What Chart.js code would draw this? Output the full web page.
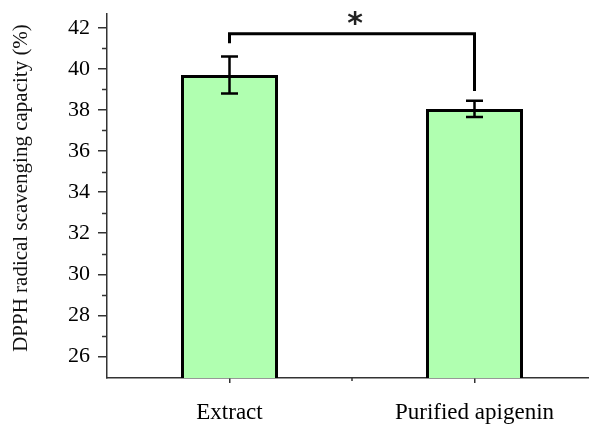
<!DOCTYPE html>
<html><head><meta charset="utf-8">
<script src="https://cdn.jsdelivr.net/npm/chart.js@4"></script>
<style>
html,body{margin:0;padding:0;overflow:hidden;background:#fff;width:589px;height:424px}
#wrap{width:610px;height:424px}
</style></head>
<body><div id="wrap"><canvas id="c" width="610" height="424"></canvas></div>
<script>
const categories = ['Extract', 'Purified apigenin'];
const means = [39.7, 38.05];
const errors = [0.9, 0.4];
const yTickValues = [26, 27, 28, 29, 30, 31, 32, 33, 34, 35, 36, 37, 38, 39, 40, 41, 42];
const yLabelValues = [26, 28, 30, 32, 34, 36, 38, 40, 42];
const yTitle = 'DPPH radical scavenging capacity (%)';
const bracketTop = 41.71;
const bracketLeftEnd = 41.24;
const bracketRightEnd = 38.92;
const sigLabel = '*';
const sigLabelValue = 42.3;

const AX = '#333';
const serif = '"Liberation Serif", "Times New Roman", serif';

const overlay = {
  id: 'overlay',
  afterDraw(chart) {
    const ctx = chart.ctx, xs = chart.scales.x, ys = chart.scales.y;
    ctx.save();
    // y axis title
    ctx.save();
    ctx.translate(21, 188);
    ctx.rotate(-Math.PI / 2);
    ctx.font = '21px ' + serif;
    ctx.fillStyle = '#111';
    ctx.textAlign = 'center'; ctx.textBaseline = 'middle';
    ctx.fillText(yTitle, 0, 0);
    ctx.restore();
    // minor y ticks
    ctx.strokeStyle = AX; ctx.lineWidth = 1.5;
    yTickValues.forEach(v => {
      if (yLabelValues.includes(v)) return;
      const py = Math.round(ys.getPixelForValue(v)) + 0.5;
      ctx.beginPath(); ctx.moveTo(ys.right - 5, py); ctx.lineTo(ys.right, py); ctx.stroke();
    });
    // minor x tick between categories
    const mx = xs.getPixelForValue(0.5);
    ctx.beginPath(); ctx.moveTo(mx, xs.top); ctx.lineTo(mx, xs.top + 3); ctx.stroke();
    // error bars
    ctx.strokeStyle = '#000'; ctx.lineWidth = 2.5;
    means.forEach((m, i) => {
      const px = xs.getPixelForValue(i);
      const t = ys.getPixelForValue(m + errors[i]);
      const b = ys.getPixelForValue(m - errors[i]);
      ctx.beginPath();
      ctx.moveTo(px, t); ctx.lineTo(px, b);
      ctx.moveTo(px - 8.5, t); ctx.lineTo(px + 8.5, t);
      ctx.moveTo(px - 8.5, b); ctx.lineTo(px + 8.5, b);
      ctx.stroke();
    });
    // significance bracket
    ctx.lineWidth = 3; ctx.lineJoin = 'miter';
    const x0 = xs.getPixelForValue(0), x1 = xs.getPixelForValue(1);
    ctx.beginPath();
    ctx.moveTo(x0, ys.getPixelForValue(bracketLeftEnd));
    ctx.lineTo(x0, ys.getPixelForValue(bracketTop));
    ctx.lineTo(x1, ys.getPixelForValue(bracketTop));
    ctx.lineTo(x1, ys.getPixelForValue(bracketRightEnd));
    ctx.stroke();
    ctx.fillStyle = '#222';
    ctx.font = 'bold 30px "DejaVu Sans", sans-serif';
    ctx.textAlign = 'center'; ctx.textBaseline = 'middle';
    ctx.fillText(sigLabel, (x0 + x1) / 2 + 3, ys.getPixelForValue(sigLabelValue) + 4);
    ctx.restore();
  }
};

new Chart(document.getElementById('c'), {
  type: 'bar',
  data: {
    labels: categories,
    datasets: [{
      data: means,
      backgroundColor: '#b0ffb0',
      borderColor: '#000',
      borderWidth: 3,
      categoryPercentage: 1,
      barPercentage: 0.396
    }]
  },
  options: {
    responsive: false,
    animation: false,
    devicePixelRatio: 1,
    layout: { padding: { top: 14, right: 13, left: 0, bottom: 0 } },
    plugins: { legend: { display: false }, tooltip: { enabled: false } },
    scales: {
      x: {
        type: 'category',
        offset: true,
        grid: { offset: false, drawOnChartArea: false, tickLength: 5, color: AX, lineWidth: 1.5 },
        border: { color: AX, width: 1.5 },
        ticks: { font: { family: serif, size: 23 }, color: '#000', padding: 16, maxRotation: 0, autoSkip: false },
        afterFit(s) { s.height = 46; s.paddingLeft = 0; s.paddingRight = 0; }
      },
      y: {
        min: 24.95,
        max: 42.67,
        afterBuildTicks(s) { s.ticks = yTickValues.map(v => ({ value: v })); },
        grid: {
          drawOnChartArea: false, tickLength: 9, lineWidth: 1.5,
          tickColor: c => (c.tick && yLabelValues.includes(c.tick.value)) ? AX : 'rgba(0,0,0,0)'
        },
        border: { color: AX, width: 1.5 },
        ticks: {
          font: { family: serif, size: 22 }, color: '#000', padding: 8,
          callback: v => yLabelValues.includes(v) ? String(v) : ''
        },
        afterFit(s) { s.width = 107; s.paddingTop = 0; s.paddingBottom = 0; }
      }
    }
  },
  plugins: [overlay]
});
</script>
</body></html>
